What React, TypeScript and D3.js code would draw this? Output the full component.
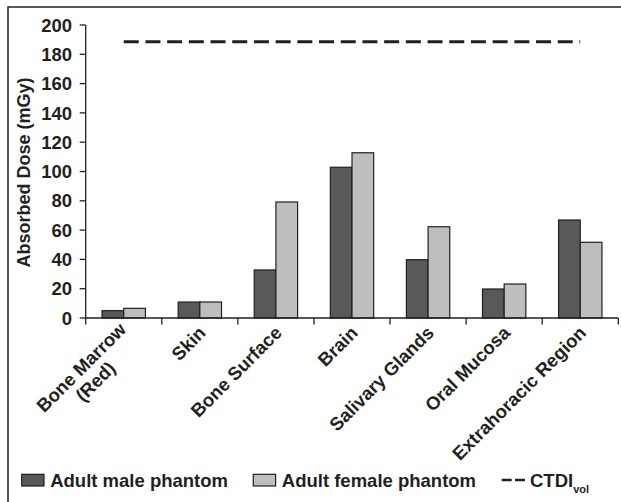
import React, { useRef, useEffect } from "react";
import * as d3 from "d3";

const categories = [
  "Bone Marrow\n(Red)",
  "Skin",
  "Bone Surface",
  "Brain",
  "Salivary Glands",
  "Oral Mucosa",
  "Extrahoracic Region",
];
const maleValues = [5.0, 10.9, 32.8, 102.9, 39.8, 19.8, 66.9];
const femaleValues = [6.6, 10.9, 79.2, 112.8, 62.3, 23.2, 51.7];
const ctdiVol = 188.6;
const yTicks = [0, 20, 40, 60, 80, 100, 120, 140, 160, 180, 200];
const seriesNames = ["Adult male phantom", "Adult female phantom"];
const seriesColors = ["#58595b", "#bcbec0"];

const W = 621;
const H = 502;
const FONT = "'Liberation Sans', Arial, Helvetica, sans-serif";
const INK = "#231f20";

const App = () => {
  const ref = useRef(null);

  useEffect(() => {
    const svg = d3.select(ref.current);
    svg.selectAll("*").remove();

    const left = 85.7;
    const right = 618.3;
    const top = 25;
    const bottom = 318;

    // frame (right and bottom edges fall outside the picture)
    svg
      .append("rect")
      .attr("x", 8)
      .attr("y", 7)
      .attr("width", 700)
      .attr("height", 600)
      .attr("fill", "white")
      .attr("stroke", INK)
      .attr("stroke-width", 1.5);

    const y = d3.scaleLinear().domain([0, 200]).range([bottom, top]);
    const x0 = d3
      .scaleBand()
      .domain(categories)
      .range([left, right])
      .paddingInner(0.43)
      .paddingOuter(0.215);
    const x1 = d3
      .scaleBand()
      .domain(seriesNames)
      .range([0, x0.bandwidth()]);

    const g = svg.append("g").attr("font-family", FONT).attr("font-weight", "bold");

    // bars
    const rows = categories.map((c, i) => ({
      cat: c,
      vals: [maleValues[i], femaleValues[i]],
    }));
    g.selectAll("g.cat")
      .data(rows)
      .enter()
      .append("g")
      .attr("transform", (d) => `translate(${x0(d.cat)},0)`)
      .selectAll("rect")
      .data((d) => d.vals.map((v, k) => ({ v, k })))
      .enter()
      .append("rect")
      .attr("x", (d) => x1(seriesNames[d.k]))
      .attr("y", (d) => y(d.v))
      .attr("width", x1.bandwidth())
      .attr("height", (d) => bottom - y(d.v))
      .attr("fill", (d) => seriesColors[d.k])
      .attr("stroke", INK)
      .attr("stroke-width", 1.2);

    // CTDIvol line from first to last category centre
    const cx = (c) => x0(c) + x0.bandwidth() / 2;
    g.append("line")
      .attr("x1", cx(categories[0]))
      .attr("x2", cx(categories[categories.length - 1]))
      .attr("y1", y(ctdiVol))
      .attr("y2", y(ctdiVol))
      .attr("stroke", INK)
      .attr("stroke-width", 3)
      .attr("stroke-dasharray", "15,6.7");

    // y axis
    g.append("line")
      .attr("x1", left)
      .attr("x2", left)
      .attr("y1", top)
      .attr("y2", bottom)
      .attr("stroke", INK)
      .attr("stroke-width", 1.3);
    g.selectAll("line.yt")
      .data(yTicks)
      .enter()
      .append("line")
      .attr("x1", left - 6)
      .attr("x2", left)
      .attr("y1", (d) => y(d))
      .attr("y2", (d) => y(d))
      .attr("stroke", INK)
      .attr("stroke-width", 1.3);
    g.selectAll("text.yt")
      .data(yTicks)
      .enter()
      .append("text")
      .attr("x", 72)
      .attr("y", (d) => y(d))
      .attr("dy", "0.36em")
      .attr("text-anchor", "end")
      .attr("font-size", 18.5)
      .attr("fill", INK)
      .text((d) => d);

    g.append("text")
      .attr("transform", `translate(29.5,${(top + bottom) / 2 + 1}) rotate(-90)`)
      .attr("text-anchor", "middle")
      .attr("font-size", 18)
      .attr("fill", INK)
      .text("Absorbed Dose (mGy)");

    // x axis
    g.append("line")
      .attr("x1", left)
      .attr("x2", right)
      .attr("y1", bottom)
      .attr("y2", bottom)
      .attr("stroke", INK)
      .attr("stroke-width", 1.3);
    const bounds = d3.range(categories.length + 1).map((i) => left + i * x0.step());
    g.selectAll("line.xt")
      .data(bounds)
      .enter()
      .append("line")
      .attr("x1", (d) => d)
      .attr("x2", (d) => d)
      .attr("y1", bottom)
      .attr("y2", bottom + 6.5)
      .attr("stroke", INK)
      .attr("stroke-width", 1.3);

    // rotated category labels
    const lh = 20;
    categories.forEach((c) => {
      const lines = c.split("\n");
      const lg = g
        .append("g")
        .attr("transform", `translate(${cx(c) + 7},${bottom + 16}) rotate(-45)`);
      const shift = lines.length > 1 ? -5 : 0;
      const t1 = lg
        .append("text")
        .attr("x", 0)
        .attr("y", shift)
        .attr("text-anchor", "end")
        .attr("font-size", 18.5)
        .attr("fill", INK)
        .text(lines[0]);
      if (lines.length > 1) {
        const w1 = t1.node().getComputedTextLength();
        lg.append("text")
          .attr("x", -w1 / 2)
          .attr("y", shift + lh)
          .attr("text-anchor", "middle")
          .attr("font-size", 18.5)
          .attr("fill", INK)
          .text(lines[1]);
      }
    });

    // legend
    const legY = 486.5;
    const legX = [21.7, 253.3];
    seriesNames.forEach((s, k) => {
      g.append("rect")
        .attr("x", legX[k])
        .attr("y", legY - 12.2)
        .attr("width", 22.3)
        .attr("height", 11.7)
        .attr("fill", seriesColors[k])
        .attr("stroke", INK)
        .attr("stroke-width", 1.2);
      g.append("text")
        .attr("x", legX[k] + 28.5)
        .attr("y", legY)
        .attr("font-size", 18.5)
        .attr("fill", INK)
        .text(s);
    });
    g.append("line")
      .attr("x1", 501.7)
      .attr("x2", 525)
      .attr("y1", legY - 6.5)
      .attr("y2", legY - 6.5)
      .attr("stroke", INK)
      .attr("stroke-width", 2.6)
      .attr("stroke-dasharray", "10,3.3");
    const ct = g
      .append("text")
      .attr("x", 530)
      .attr("y", legY)
      .attr("font-size", 18.5)
      .attr("fill", INK);
    ct.append("tspan").text("CTDI");
    ct.append("tspan").attr("font-size", 11).attr("dy", 6).text("vol");
  }, []);

  return (
    <svg
      ref={ref}
      width={W}
      height={H}
      style={{ position: "absolute", left: 0, top: 0, background: "white" }}
    />
  );
};

export default App;
